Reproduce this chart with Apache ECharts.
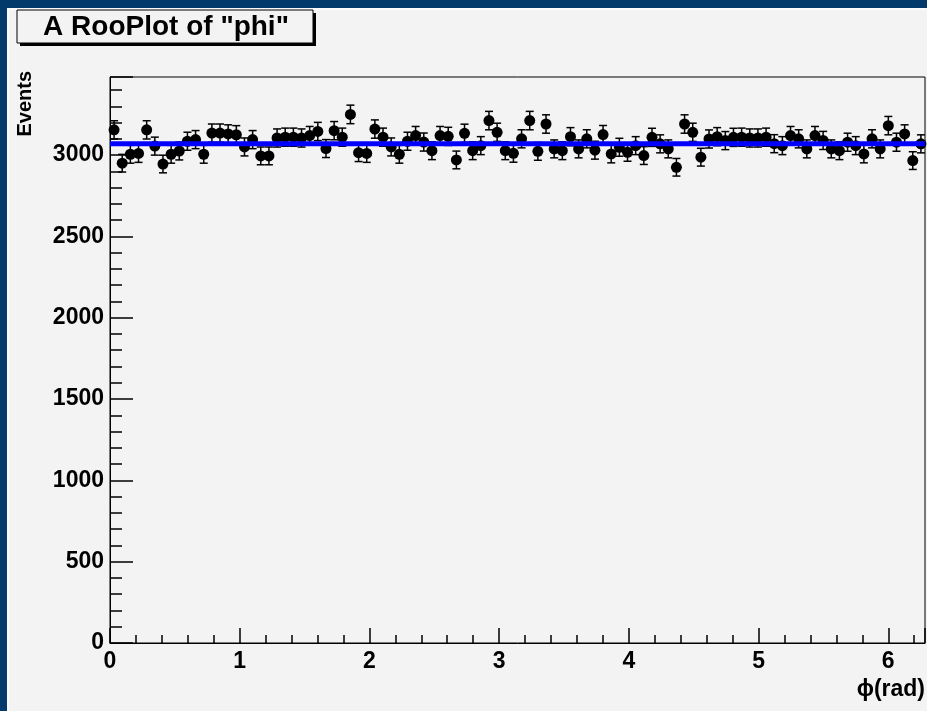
<!DOCTYPE html>
<html>
<head>
<meta charset="utf-8">
<title>A RooPlot of "phi"</title>
<script src="https://cdn.jsdelivr.net/npm/echarts@6/dist/echarts.min.js"></script>
<style>
  html, body { margin: 0; padding: 0; background: #023a6c; }
  #chart { width: 927px; height: 711px; }
</style>
</head>
<body>
<div id="chart"></div>
<script>
// histogram of phi: 100 bins over [0, 2pi]
const nBins = 100;
const phiMax = 2 * Math.PI;

const events = [
  3155, 2950, 3005, 3010, 3155, 3055, 2945, 3005, 3025, 3085,
  3095, 3005, 3135, 3135, 3130, 3125, 3050, 3095, 2995, 2995,
  3105, 3110, 3110, 3105, 3120, 3145, 3040, 3150, 3110, 3250,
  3015, 3010, 3160, 3110, 3050, 3005, 3085, 3120, 3080, 3027,
  3120, 3115, 2970, 3134, 3027, 3058, 3212, 3140, 3027, 3011,
  3100, 3212, 3023, 3191, 3038, 3027, 3113, 3038, 3100, 3030,
  3126, 3007, 3048, 3017, 3058, 2997, 3109, 3069, 3038, 2925,
  3191, 3140, 2987, 3099, 3113, 3089, 3109, 3110, 3105, 3105,
  3110, 3070, 3058, 3120, 3100, 3038, 3120, 3090, 3038, 3027,
  3079, 3058, 3007, 3100, 3038, 3181, 3079, 3130, 2966, 3069
];

// flat fit (blue line)
const fitLevel = 3070;

const yMax = 3480;
const font = "'Liberation Sans', Arial, Helvetica, sans-serif";

const binWidth = phiMax / nBins;
// [bin centre, count, poisson error]
const points = events.map((v, i) => [(i + 0.5) * binWidth, v, Math.sqrt(v)]);

const chart = echarts.init(document.getElementById('chart'));

const option = {
  backgroundColor: '#023a6c',
  animation: false,
  grid: {
    left: 110,
    right: 2,
    top: 77,
    bottom: 68,
    show: true,
    borderColor: '#000',
    borderWidth: 1,
    backgroundColor: 'transparent'
  },
  xAxis: {
    type: 'value',
    min: 0,
    max: phiMax,
    interval: 1,
    axisLine: { lineStyle: { color: '#000', width: 1 } },
    axisTick: { inside: true, length: 15, lineStyle: { color: '#000', width: 1.5 } },
    minorTick: { show: true, splitNumber: 5, length: 8, lineStyle: { color: '#000', width: 1.5 } },
    splitLine: { show: false },
    axisLabel: {
      showMaxLabel: false,
      margin: 7,
      color: '#000',
      fontFamily: font,
      fontWeight: 'bold',
      fontSize: 23,
      formatter: v => String(v)
    }
  },
  yAxis: {
    type: 'value',
    min: 0,
    max: yMax,
    interval: 500,
    axisLine: { show: true, lineStyle: { color: '#000', width: 1 } },
    axisTick: { show: true, inside: true, length: 23, lineStyle: { color: '#000', width: 1.5 } },
    minorTick: { show: true, splitNumber: 5, length: 12, lineStyle: { color: '#000', width: 1.5 } },
    splitLine: { show: false },
    axisLabel: {
      showMaxLabel: false,
      margin: 6,
      color: '#000',
      fontFamily: font,
      fontWeight: 'bold',
      fontSize: 23,
      formatter: v => String(v)
    }
  },
  graphic: [
    { type: 'rect', z: -10, silent: true, shape: { x: 7, y: 8, width: 920, height: 703 }, style: { fill: '#fbfbfb' } },
    { type: 'rect', z: -9, silent: true, shape: { x: 9, y: 10, width: 918, height: 701 }, style: { fill: '#f3f3f3' } },
    // title box with shadow
    { type: 'rect', z: 10, shape: { x: 20, y: 13, width: 296, height: 33 }, style: { fill: '#000' } },
    { type: 'rect', z: 11, shape: { x: 17, y: 10, width: 296, height: 33 }, style: { fill: '#f3f3f3', stroke: '#000', lineWidth: 1 } },
    {
      type: 'text', z: 12, x: 166, y: 27,
      style: {
        text: 'A RooPlot of "phi"',
        fill: '#000',
        font: 'bold 28px ' + font,
        textAlign: 'center',
        textVerticalAlign: 'middle'
      }
    },
    {
      type: 'text', z: 12, x: 25, y: 71, rotation: Math.PI / 2,
      style: {
        text: 'Events',
        fill: '#000',
        font: 'bold 20px ' + font,
        textAlign: 'right',
        textVerticalAlign: 'middle'
      }
    },
    {
      type: 'text', z: 12, x: 925, y: 690,
      style: {
        text: 'ϕ(rad)',
        fill: '#000',
        font: 'bold 23px ' + font,
        textAlign: 'right',
        textVerticalAlign: 'middle'
      }
    }
  ],
  series: [
    {
      name: 'errors',
      type: 'custom',
      z: 3,
      data: points,
      renderItem: function (params, api) {
        const x = api.value(0);
        const y = api.value(1);
        const e = api.value(2);
        const hi = api.coord([x, y + e]);
        const lo = api.coord([x, y - e]);
        const cap = 4;
        const st = { stroke: '#000', lineWidth: 1.5 };
        return {
          type: 'group',
          children: [
            { type: 'line', shape: { x1: hi[0], y1: hi[1], x2: lo[0], y2: lo[1] }, style: st },
            { type: 'line', shape: { x1: hi[0] - cap, y1: hi[1], x2: hi[0] + cap, y2: hi[1] }, style: st },
            { type: 'line', shape: { x1: lo[0] - cap, y1: lo[1], x2: lo[0] + cap, y2: lo[1] }, style: st }
          ]
        };
      }
    },
    {
      name: 'data',
      type: 'scatter',
      z: 4,
      symbol: 'circle',
      symbolSize: 11,
      itemStyle: { color: '#000', opacity: 1 },
      data: points.map(p => [p[0], p[1]])
    },
    {
      name: 'fit',
      type: 'line',
      z: 5,
      showSymbol: false,
      lineStyle: { color: '#0000ff', width: 5 },
      data: [[0, fitLevel], [phiMax, fitLevel]]
    }
  ]
};

chart.setOption(option);
</script>
</body>
</html>
